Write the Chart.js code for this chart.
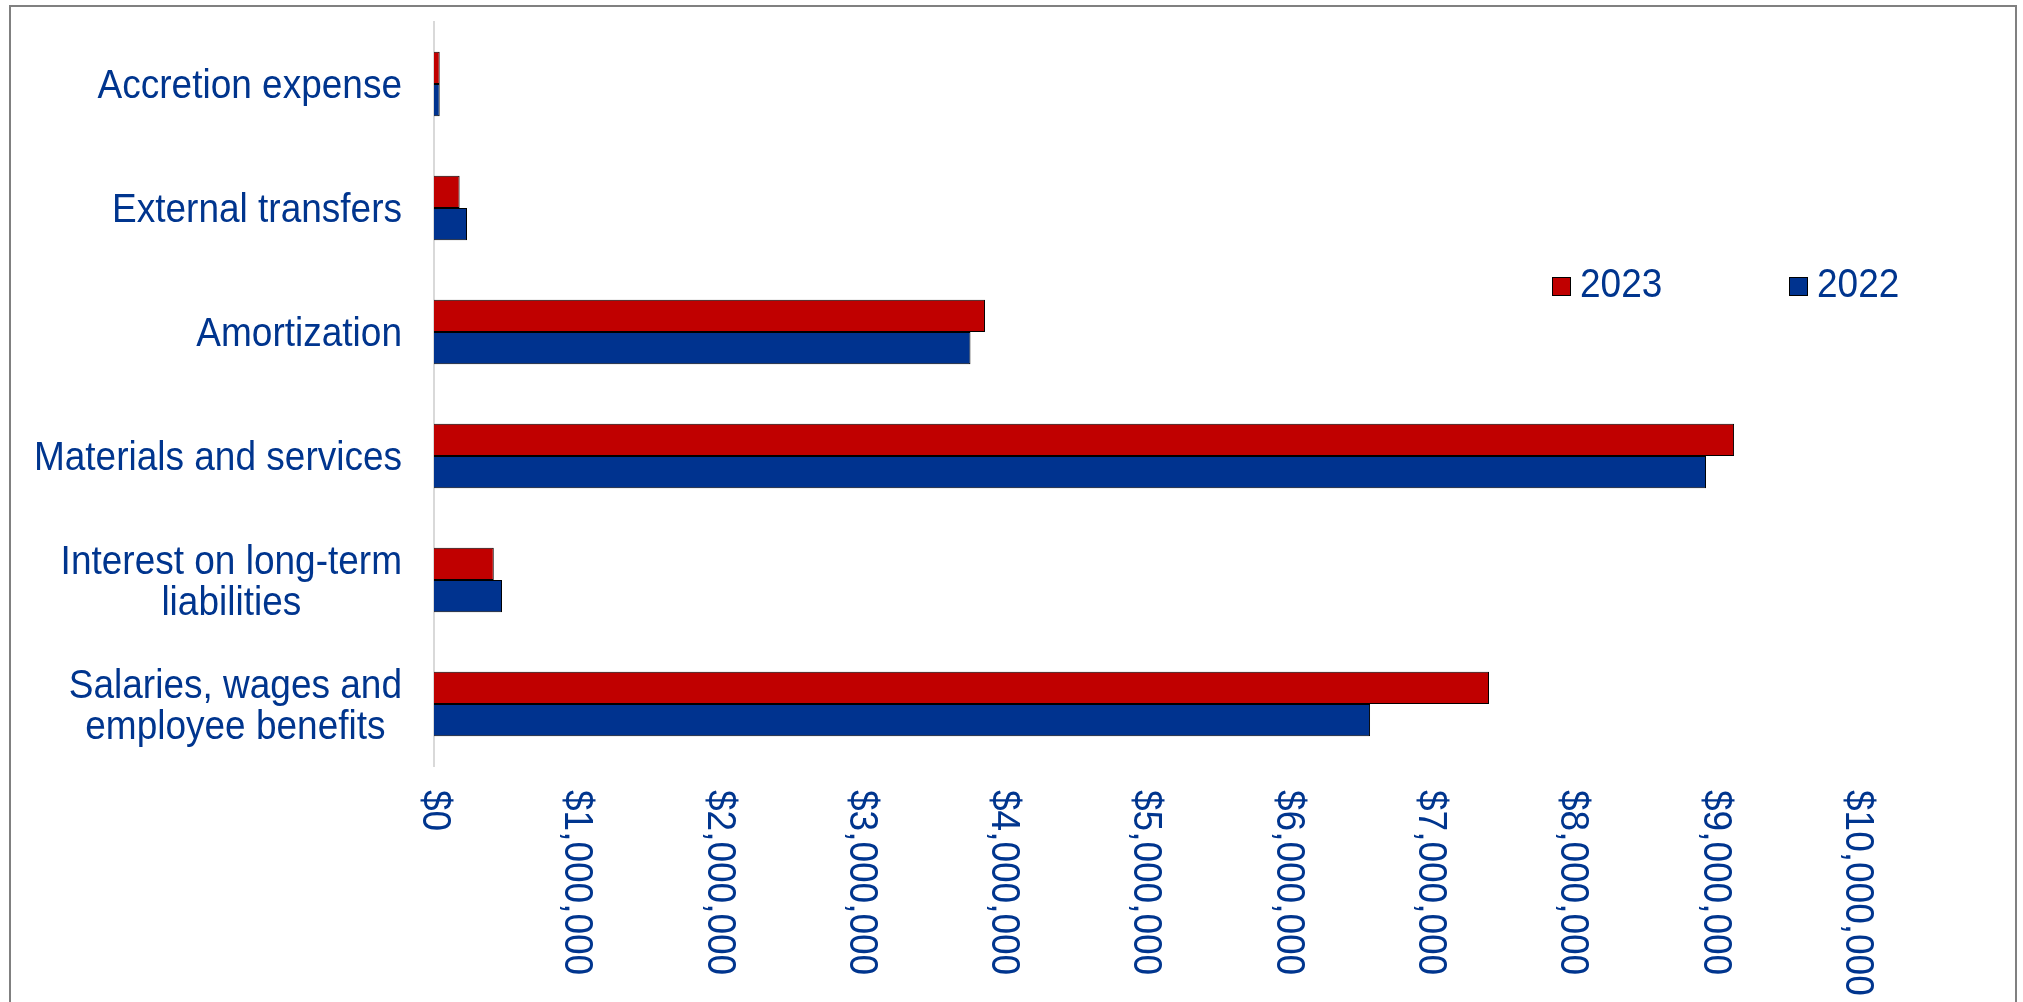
<!DOCTYPE html>
<html>
<head>
<meta charset="utf-8">
<script src="https://cdn.jsdelivr.net/npm/chart.js@4.4.0/dist/chart.umd.min.js"></script>
<style>
  body { margin: 0; background: #fff; overflow: hidden; }
  #moldura { position: absolute; left: 9px; top: 5px; width: 2004px; height: 1100px; border: 2px solid #808080; }
  #grafico { position: absolute; left: 0; top: 0; }
</style>
</head>
<body>
<div id="moldura"></div>
<canvas id="grafico" width="2023" height="1002"></canvas>
<script>
// Dados do gráfico de despesas

const categorias = [
  'Accretion expense',
  'External transfers',
  'Amortization',
  'Materials and services',
  ['Interest on long-term', 'liabilities'],
  ['Salaries, wages and', 'employee benefits'],
];

const valores2023 = [40000, 180000, 3872000, 9136000, 420000, 7414000];
const valores2022 = [40000, 232000, 3770000, 8939000, 478000, 6578000];

const eixoMin = 0;
const eixoMax = 10000000;
const eixoPasso = 1000000;

const corTexto = '#00358E';
const fonte = '"Liberation Sans", Arial, sans-serif';

// desenha os textos (ticks, categorias e legenda) com a fonte um pouco estreita
const textosPlugin = {
  id: 'textos',
  afterDraw(chart) {
    const ctx = chart.ctx;
    const xs = chart.scales.x;
    const ys = chart.scales.y;
    const aperto = 0.925;
    ctx.save();
    ctx.fillStyle = corTexto;
    ctx.font = '40px ' + fonte;

    // ticks do eixo x, girados 90 graus
    xs.ticks.forEach((t, i) => {
      const px = xs.getPixelForTick(i);
      ctx.save();
      ctx.translate(px, xs.top + 24);
      ctx.rotate(Math.PI / 2);
      ctx.scale(aperto, 1);
      ctx.textAlign = 'left';
      ctx.textBaseline = 'middle';
      ctx.fillText('$' + t.value.toLocaleString('en-US'), 0, 0);
      ctx.restore();
    });

    // rótulos das categorias
    const direita = ys.right - 32;
    chart.data.labels.forEach((lab, i) => {
      const linhas = Array.isArray(lab) ? lab : [lab];
      const larg = Math.max(...linhas.map(l => ctx.measureText(l).width)) * aperto;
      const cx = direita - larg / 2;
      const py = ys.getPixelForTick(i) + 3;
      const alt = 41;
      linhas.forEach((l, j) => {
        const y = py + (j - (linhas.length - 1) / 2) * alt;
        ctx.save();
        ctx.translate(cx, y);
        ctx.scale(aperto, 1);
        ctx.textAlign = 'center';
        ctx.textBaseline = 'middle';
        ctx.fillText(l, 0, 0);
        ctx.restore();
      });
    });

    // legenda
    const posLegenda = [1552, 1789];
    chart.data.datasets.forEach((ds, i) => {
      const x = posLegenda[i];
      const y = 286;
      ctx.fillStyle = ds.backgroundColor;
      ctx.fillRect(x, y - 9, 19, 19);
      ctx.strokeStyle = '#000';
      ctx.lineWidth = 1;
      ctx.strokeRect(x + 0.5, y - 8.5, 18, 18);
      ctx.fillStyle = corTexto;
      ctx.save();
      ctx.translate(x + 28, y);
      ctx.scale(aperto, 1);
      ctx.textAlign = 'left';
      ctx.textBaseline = 'middle';
      ctx.fillText(ds.label, 0, 0);
      ctx.restore();
    });
    ctx.restore();
  }
};

const dadosDespesas = {
  labels: categorias,
  datasets: [
    {
      label: '2023',
      data: valores2023,
      backgroundColor: '#C00000',
      borderColor: '#000000',
      borderWidth: 1,
      categoryPercentage: 0.52,
      barPercentage: 1.0,
    },
    {
      label: '2022',
      data: valores2022,
      backgroundColor: '#00338F',
      borderColor: '#000000',
      borderWidth: 1,
      categoryPercentage: 0.52,
      barPercentage: 1.0,
    }
  ]
};

const configDespesas = {
  type: 'bar',
  data: dadosDespesas,
  options: {
    indexAxis: 'y',
    responsive: false,
    animation: false,
    devicePixelRatio: 1,
    layout: { padding: { top: 22, right: 166, bottom: 0, left: 0 } },
    plugins: {
      legend: { display: false },
      tooltip: { enabled: false },
    },
    scales: {
      x: {
        min: eixoMin,
        max: eixoMax,
        ticks: { display: false, stepSize: eixoPasso },
        grid: { display: false },
        border: { display: false },
        afterFit: s => { s.height = 236; },
      },
      y: {
        ticks: { display: false },
        grid: { display: false },
        border: { display: true, color: '#D9D9D9', width: 2 },
        afterFit: s => { s.width = 434; },
      }
    }
  },
  plugins: [textosPlugin]
};

const graficoDespesas = new Chart(
  document.getElementById('grafico'),
  configDespesas
);
</script>
</body>
</html>
